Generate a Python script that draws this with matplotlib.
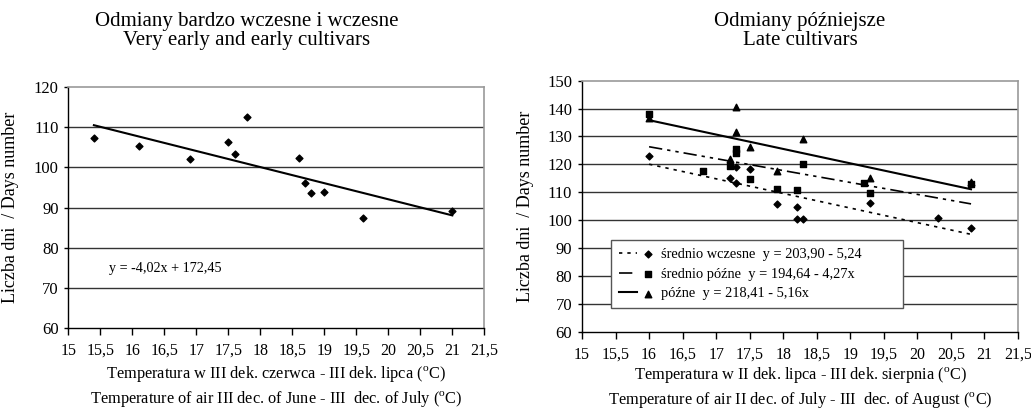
import numpy as np
import matplotlib
matplotlib.use('Agg')
import matplotlib.pyplot as plt
from matplotlib.legend_handler import HandlerTuple

plt.rcParams['font.family'] = ['Liberation Serif', 'DejaVu Serif']
plt.rcParams['mathtext.fontset'] = 'custom'
plt.rcParams['mathtext.rm'] = 'Liberation Serif'
plt.rcParams['font.size'] = 11.5

# left chart - very early and early cultivars
early_x = [15.4, 16.1, 16.9, 17.5, 17.6, 17.8, 18.6, 18.7, 18.8, 19.0, 19.6, 21.0]
early_y = [107.4, 105.3, 102.1, 106.3, 103.3, 112.5, 102.3, 96.0, 93.5, 93.9, 87.3, 89.1]
early_fit = (172.45, -4.02)

# right chart - later cultivars
mid_early_x = [16.0, 17.2, 17.3, 17.3, 17.5, 17.9, 18.2, 18.2, 18.3, 19.3, 20.3, 20.8]
mid_early_y = [123.1, 115.2, 118.9, 113.2, 118.2, 105.8, 104.7, 100.4, 100.4, 106.3, 100.8, 97.3]
mid_late_x = [16.0, 16.8, 17.2, 17.3, 17.3, 17.5, 17.9, 18.2, 18.3, 19.2, 19.3, 20.8]
mid_late_y = [137.9, 117.5, 119.4, 125.4, 123.9, 114.7, 111.0, 110.8, 120.0, 113.4, 109.8, 112.8]
late_x = [16.0, 17.2, 17.3, 17.3, 17.5, 17.9, 18.3, 19.3, 20.8]
late_y = [136.8, 122.0, 140.7, 131.7, 126.1, 117.6, 129.1, 115.2, 113.5]
mid_early_fit = (203.90, -5.24)
mid_late_fit = (194.64, -4.27)
late_fit = (218.41, -5.16)

x_ticks = np.arange(15, 21.51, 0.5)
x_labels = [('%g' % t).replace('.', ',') for t in x_ticks]

fig = plt.figure(figsize=(10.31, 4.09), dpi=100)
ax1 = fig.add_axes([68.3 / 1031, 1 - 327.7 / 409, 416 / 1031, 240.4 / 409])
ax2 = fig.add_axes([582 / 1031, 1 - 331.7 / 409, 436 / 1031, 251 / 409])


def style(ax, ymin, ymax):
    ax.set_xlim(15, 21.5)
    ax.set_ylim(ymin, ymax)
    ax.set_xticks(x_ticks)
    ax.set_xticklabels(x_labels)
    ax.set_yticks(np.arange(ymin, ymax + 1, 10))
    for y in np.arange(ymin + 10, ymax, 10):
        ax.axhline(y, color='#333333', lw=1, zorder=1)
    for s in ['top', 'right']:
        ax.spines[s].set_color('#999999')
        ax.spines[s].set_linewidth(1.2)
    for s in ['left', 'bottom']:
        ax.spines[s].set_color('black')
        ax.spines[s].set_linewidth(1)
    ax.tick_params(axis='x', direction='out', length=5, pad=6, width=1, labelsize=11.5)
    ax.tick_params(axis='y', direction='out', length=3, pad=4, width=1, labelsize=12)
    ax.set_ylabel('Liczba dni  / Days number', fontsize=13)


style(ax1, 60, 120)
style(ax2, 60, 150)
ax1.yaxis.set_label_coords(-0.118, 0.5)
ax2.yaxis.set_label_coords(-0.110, 0.5)

# left chart
ax1.scatter(early_x, early_y, marker='D', s=12, color='black', zorder=3)
fx = np.array([min(early_x), max(early_x)])
ax1.plot(fx, early_fit[0] + early_fit[1] * fx, color='black', lw=1.5, zorder=2)
ax1.text(15.63, 74.8, 'y = -4,02x + 172,45', va='center', ha='left', fontsize=10.2)

# right chart
fx2 = np.array([16.0, 20.8])
l1, = ax2.plot(fx2, mid_early_fit[0] + mid_early_fit[1] * fx2, color='black', lw=1.2,
               dashes=(2, 3), zorder=2)
l2, = ax2.plot(fx2, mid_late_fit[0] + mid_late_fit[1] * fx2, color='black', lw=1.2,
               dashes=(8, 3, 2, 3, 2, 3), zorder=2)
l3, = ax2.plot(fx2, late_fit[0] + late_fit[1] * fx2, color='black', lw=1.5, zorder=2)
m1 = ax2.scatter(mid_early_x, mid_early_y, marker='D', s=12, color='black', zorder=3)
m2 = ax2.scatter(mid_late_x, mid_late_y, marker='s', s=22, color='black', zorder=3)
m3 = ax2.scatter(late_x, late_y, marker='^', s=22, color='black', zorder=3)

labels = ['średnio wczesne  y = 203,90 - 5,24',
          'średnio późne  y = 194,64 - 4,27x',
          'późne  y = 218,41 - 5,16x']
leg = ax2.legend([(l1, m1), (l2, m2), (l3, m3)], labels,
                 handler_map={tuple: HandlerTuple(ndivide=None, pad=0.1)},
                 loc='lower left', bbox_to_anchor=(0.066, 0.093, 0.67, 0.266),
                 mode='expand', borderaxespad=0, handlelength=2.7, handletextpad=0.2,
                 labelspacing=0.45, fancybox=False, framealpha=1, scatterpoints=1,
                 borderpad=0.55, fontsize=10.4)
leg.get_frame().set_edgecolor('#555555')
leg.get_frame().set_linewidth(1)

# axis titles
ax1.text(0.5, -0.193, 'Temperatura w III dek. czerwca - III dek. lipca ($^{\\rm o}$C)',
         transform=ax1.transAxes, ha='center', va='center', fontsize=11.8)
ax1.text(0.5, -0.298, 'Temperature of air III dec. of June - III  dec. of July ($^{\\rm o}$C)',
         transform=ax1.transAxes, ha='center', va='center', fontsize=11.8)
ax2.text(0.5, -0.173, 'Temperatura w II dek. lipca - III dek. sierpnia ($^{\\rm o}$C)',
         transform=ax2.transAxes, ha='center', va='center', fontsize=11.8)
ax2.text(0.5, -0.272, 'Temperature of air II dec. of July - III  dec. of August ($^{\\rm o}$C)',
         transform=ax2.transAxes, ha='center', va='center', fontsize=11.8)

fig.text(247 / 1031, 1 - 26 / 409, 'Odmiany bardzo wczesne i wczesne', ha='center',
         va='baseline', fontsize=15)
fig.text(247 / 1031, 1 - 45 / 409, 'Very early and early cultivars', ha='center',
         va='baseline', fontsize=15)
fig.text(800 / 1031, 1 - 26 / 409, 'Odmiany późniejsze', ha='center', va='baseline',
         fontsize=15)
fig.text(800 / 1031, 1 - 45 / 409, 'Late cultivars', ha='center', va='baseline', fontsize=15)

fig.savefig('out.png', dpi=100)
